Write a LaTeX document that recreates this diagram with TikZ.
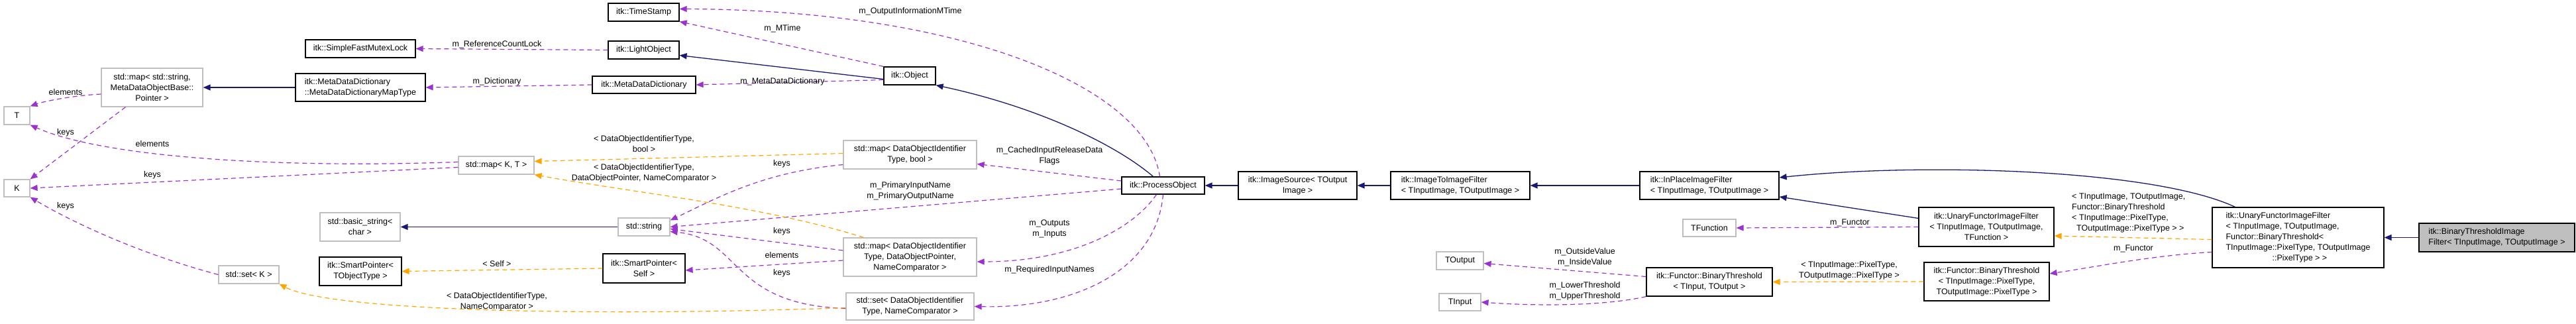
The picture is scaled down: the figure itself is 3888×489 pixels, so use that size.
\documentclass[tikz,border=0pt]{standalone}
\usepackage{fontspec}
\setmainfont{Liberation Sans}
\usetikzlibrary{arrows.meta}
\definecolor{navy}{HTML}{191970}
\definecolor{purp}{HTML}{9A32CD}
\definecolor{orng}{HTML}{FFA500}
\definecolor{gbord}{HTML}{BFBFBF}
\begin{document}
\begin{tikzpicture}[x=1pt,y=-1pt,
  box/.style={draw=black,line width=1.2pt,fill=white,inner sep=0pt,align=center,font=\fontsize{12.5}{16}\selectfont},
  gbox/.style={box,draw=gbord},
  lbox/.style={box,align=left},
  lbl/.style={inner sep=0pt,align=center,font=\fontsize{12.5}{16}\selectfont},
  tip/.style={-{Triangle[length=11pt,width=9pt]}},
  inh/.style={tip,draw=navy,line width=1.3pt,-{Triangle[length=11pt,width=9pt,fill=navy]}},
  use/.style={draw=purp,line width=1.2pt,dash pattern=on 7pt off 5pt,-{Triangle[length=11pt,width=9pt,fill=purp,sep=0pt]}},
  tpl/.style={draw=orng,line width=1.2pt,dash pattern=on 7pt off 5pt,-{Triangle[length=11pt,width=9pt,fill=orng]}}]
\useasboundingbox (0,0) rectangle (3888,489);
% nodes
\node[box,minimum width=166,minimum height=27] (sfml) at (544,73.5) {itk::SimpleFastMutexLock};
\node[gbox,minimum width=153,minimum height=58] (mapstr) at (229.5,132) {std::map< std::string,\\MetaDataObjectBase::\\Pointer >};
\node[lbox,minimum width=196,minimum height=42] (mddmap) at (544,132) {itk::MetaDataDictionary\\::MetaDataDictionaryMapType};
\node[gbox,minimum width=39,minimum height=27] (T) at (25.5,174.5) {T};
\node[gbox,minimum width=39,minimum height=26] (K) at (25.5,284) {K};
\node[gbox,minimum width=121,minimum height=43] (bstr) at (543.5,342.5) {std::basic\_string<\\char >};
\node[box,minimum width=124,minimum height=43] (spT) at (544,409.5) {itk::SmartPointer<\\TObjectType >};
\node[gbox,minimum width=91,minimum height=27] (setK) at (375.5,414.5) {std::set< K >};
\node[box,minimum width=107,minimum height=27] (ts) at (971.5,18.5) {itk::TimeStamp};
\node[box,minimum width=107,minimum height=27] (lo) at (971.5,75.5) {itk::LightObject};
\node[box,minimum width=156,minimum height=26] (mdd) at (972,128) {itk::MetaDataDictionary};
\node[gbox,minimum width=114,minimum height=27] (mapKT) at (749,249.5) {std::map< K, T >};
\node[gbox,minimum width=78,minimum height=27] (str) at (972,342.5) {std::string};
\node[box,minimum width=124,minimum height=44] (spS) at (972,405) {itk::SmartPointer<\\Self >};
\node[gbox,minimum width=201,minimum height=43] (mapB) at (1373.5,233.5) {std::map< DataObjectIdentifier\\Type, bool >};
\node[gbox,minimum width=201,minimum height=58] (mapP) at (1373.5,388) {std::map< DataObjectIdentifier\\Type, DataObjectPointer,\\NameComparator >};
\node[gbox,minimum width=193,minimum height=41] (setD) at (1373.5,462.5) {std::set< DataObjectIdentifier\\Type, NameComparator >};
\node[box,minimum width=78,minimum height=27] (obj) at (1373,114.5) {itk::Object};
\node[box,minimum width=125,minimum height=26] (po) at (1755.5,280) {itk::ProcessObject};
\node[box,minimum width=179,minimum height=42] (is) at (1958.5,280) {itk::ImageSource< TOutput\\Image >};
\node[lbox,minimum width=210,minimum height=42] (i2i) at (2204,280) {itk::ImageToImageFilter\\< TInputImage, TOutputImage >};
\node[lbox,minimum width=210,minimum height=42] (ip) at (2580,280) {itk::InPlaceImageFilter\\< TInputImage, TOutputImage >};
\node[gbox,minimum width=80,minimum height=26] (tf) at (2580,344) {TFunction};
\node[gbox,minimum width=71,minimum height=27] (tout) at (2203.5,393.5) {TOutput};
\node[gbox,minimum width=63,minimum height=26] (tin) at (2203.5,456) {TInput};
\node[box,minimum width=190,minimum height=43] (bt1) at (2580,425.5) {itk::Functor::BinaryThreshold\\< TInput, TOutput >};
\node[box,minimum width=204,minimum height=59] (ufT) at (2998,342.5) {itk::UnaryFunctorImageFilter\\< TInputImage, TOutputImage,\\TFunction >};
\node[box,minimum width=189,minimum height=58] (bt2) at (2998.5,425) {itk::Functor::BinaryThreshold\\< TInputImage::PixelType,\\TOutputImage::PixelType >};
\node[lbox,minimum width=259,minimum height=91] (ufB) at (3468.5,358.5) {itk::UnaryFunctorImageFilter\\< TInputImage, TOutputImage,\\ Functor::BinaryThreshold<\\ TInputImage::PixelType, TOutputImage\\\hspace*{70pt}::PixelType > >};
\node[lbox,fill=gbord,minimum width=235,minimum height=43] (btif) at (3768.5,358.5) {itk::BinaryThresholdImage\\Filter< TInputImage, TOutputImage >};
% inheritance
\draw[inh] (mddmap.west) -- (mapstr.east);
\draw[inh] ([yshift=-5]obj.west) -- ([yshift=-8]lo.east);
\draw[inh] ([xshift=-15]po.north) .. controls (1680,215) and (1560,160) .. (obj.south east);
\draw[inh] (is.west) -- (po.east);
\draw[inh] (i2i.west) -- (is.east);
\draw[inh] (ip.west) -- (i2i.east);
\draw[inh] ([yshift=13]ufT.west) -- ([yshift=-17]ip.east);
\draw[inh] ([xshift=-95]ufB.north) .. controls (3250,255) and (2900,245) .. ([yshift=12]ip.east);
\draw[inh] (btif.west) -- (ufB.east);
\draw[inh] (str.west) -- (bstr.east);
% usage
\draw[use] (lo.west) -- (sfml.east);
\draw[use] (mdd.west) -- (mddmap.east);
\draw[use] (obj.north west) -- (ts.south east);
\draw[use] ([yshift=-6]obj.west) -- (mdd.east);
\draw[use] ([xshift=-5]po.north) .. controls (1730,130) and (1450,15) .. ([yshift=5]ts.east);
\draw[use] ([yshift=7]po.west) -- ([yshift=-14]mapB.east);
\draw[use] ([yshift=-5]po.west) -- (str.east);
\draw[use] ([xshift=-10]po.south) .. controls (1710,345) and (1620,395) .. ([yshift=-7]mapP.east);
\draw[use] (po.south) .. controls (1745,410) and (1620,466) .. (setD.east);
\draw[use] ([yshift=-15]mapB.west) .. controls (1150,260) and (1080,300) .. ([yshift=10]str.east);
\draw[use] ([yshift=10]mapP.west) -- ([yshift=-3]str.east);
\draw[use] ([yshift=-5]mapP.west) -- ([yshift=-3]spS.east);
\draw[use] ([yshift=-3]setD.west) .. controls (1100,460) and (1120,360) .. ([yshift=-7]str.east);
\draw[use] ([yshift=5]mapKT.west) .. controls (400,255) and (150,235) .. (T.south east);
\draw[use] ([yshift=-3]mapKT.west) -- (K.east);
\draw[use] ([yshift=-10]mapstr.west) .. controls (100,145) and (60,155) .. (T.north east);
\draw[use] ([xshift=-40]mapstr.south) -- (K.north east);
\draw[use] (setK.west) .. controls (200,380) and (100,330) .. (K.south east);
\draw[use] (ufT.west) -- (tf.east);
\draw[use] ([yshift=8]bt1.west) -- ([yshift=-4]tout.east);
\draw[use] (bt1.south west) .. controls (2420,462) and (2320,462) .. (tin.east);
\draw[use] ([yshift=-22]ufB.west) .. controls (3250,385) and (3150,405) .. ([yshift=12]bt2.east);
% templates
\draw[tpl] ([yshift=-3]ufB.west) -- ([yshift=-13.5]ufT.east);
\draw[tpl] (bt2.west) -- (bt1.east);
\draw[tpl] ([yshift=2]mapB.west) -- ([yshift=6]mapKT.east);
\draw[tpl] ([xshift=-70]mapP.north) .. controls (1150,310) and (950,290) .. (mapKT.south east);
\draw[tpl] (spS.west) -- (spT.east);
\draw[tpl] ([yshift=-2]setD.west) .. controls (900,478) and (500,470) .. (setK.south east);
% labels
\node[lbl] (l1) at (750,67) {m\_ReferenceCountLock};
\node[lbl] (l2) at (750,123) {m\_Dictionary};
\node[lbl] (l3) at (1181,123) {m\_MetaDataDictionary};
\node[lbl] (l4) at (1181,43) {m\_MTime};
\node[lbl] (l5) at (1374,17) {m\_OutputInformationMTime};
\node[lbl] (l6) at (972,217) {< DataObjectIdentifierType,\\bool >};
\node[lbl] (l7) at (972,261) {< DataObjectIdentifierType,\\DataObjectPointer, NameComparator >};
\node[lbl] (l8) at (1180,247) {keys};
\node[lbl] (l9) at (1180,349) {keys};
\node[lbl] (l10) at (1180,385) {elements};
\node[lbl] (l11) at (1180,412) {keys};
\node[lbl] (l12) at (750,398) {< Self >};
\node[lbl] (l13) at (750,455) {< DataObjectIdentifierType,\\NameComparator >};
\node[lbl] (l14) at (99,139) {elements};
\node[lbl] (l15) at (99,200) {keys};
\node[lbl] (l16) at (230,217) {elements};
\node[lbl] (l17) at (230,264) {keys};
\node[lbl] (l18) at (99,311) {keys};
\node[lbl] (l19) at (1584,235) {m\_CachedInputReleaseData\\Flags};
\node[lbl] (l20) at (1374,288) {m\_PrimaryInputName\\m\_PrimaryOutputName};
\node[lbl] (l21) at (1584,345) {m\_Outputs\\m\_Inputs};
\node[lbl] (l22) at (1584,407) {m\_RequiredInputNames};
\node[lbl] (l23) at (2392,388) {m\_OutsideValue\\m\_InsideValue};
\node[lbl] (l24) at (2392,439) {m\_LowerThreshold\\m\_UpperThreshold};
\node[lbl] (l25) at (2792,336) {m\_Functor};
\node[lbl] (l26) at (2791,408) {< TInputImage::PixelType,\\TOutputImage::PixelType >};
\node[lbl,align=left,anchor=north west] (l27) at (3127,292) {< TInputImage, TOutputImage,\\Functor::BinaryThreshold\\< TInputImage::PixelType,\\\ \ TOutputImage::PixelType > >};
\node[lbl] (l28) at (3220,375) {m\_Functor};
\end{tikzpicture}
\end{document}
